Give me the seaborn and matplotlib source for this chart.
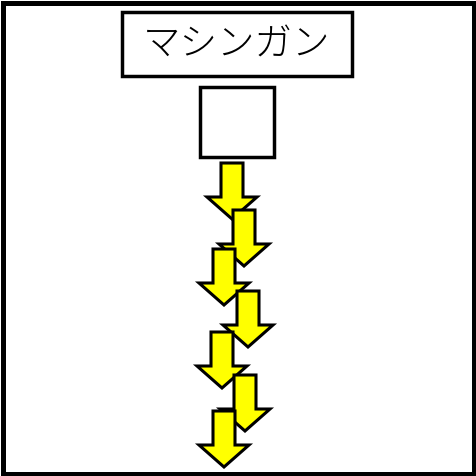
import matplotlib
matplotlib.use("Agg")
import matplotlib.pyplot as plt
from matplotlib.patches import Rectangle, Polygon
import seaborn as sns

# title and the falling bullets (pixel space, y grows downwards)
title = "マシンガン"
arrow_x = [232, 244, 224, 248, 222, 245, 224]
arrow_top = [163, 210, 249, 291, 332, 375, 411]

sns.set_theme(style="white")
plt.rcParams['font.family'] = ['Noto Sans CJK JP', 'DejaVu Sans']

fig = plt.figure(figsize=(4.76, 4.76), dpi=100)
ax = fig.add_axes([0, 0, 1, 1])
ax.set_xlim(0, 476)
ax.set_ylim(476, 0)
ax.set_xticks([])
ax.set_yticks([])
for s in ax.spines.values():
    s.set_visible(False)

# outer frame
ax.add_patch(Rectangle((2.5, 2.5), 471, 471, fill=False, ec="black", lw=3.6))

# title box
ax.add_patch(Rectangle((122, 12), 230, 64, fill=False, ec="black", lw=2.5))
ax.text(237, 45, title, ha="center", va="center", fontsize=27, color="black",
        fontweight="light")

# gun square
ax.add_patch(Rectangle((200, 87), 74, 70, fill=False, ec="black", lw=2.5))

# arrows
sw, hw, sl, hl = 11, 25, 34, 22
for x, y in zip(arrow_x, arrow_top):
    pts = [(x - sw, y), (x + sw, y), (x + sw, y + sl), (x + hw, y + sl),
           (x, y + sl + hl), (x - hw, y + sl), (x - sw, y + sl)]
    ax.add_patch(Polygon(pts, closed=True, fc="#ffff00", ec="black", lw=2.2,
                         joinstyle="miter"))

fig.savefig("out.png", dpi=100)
